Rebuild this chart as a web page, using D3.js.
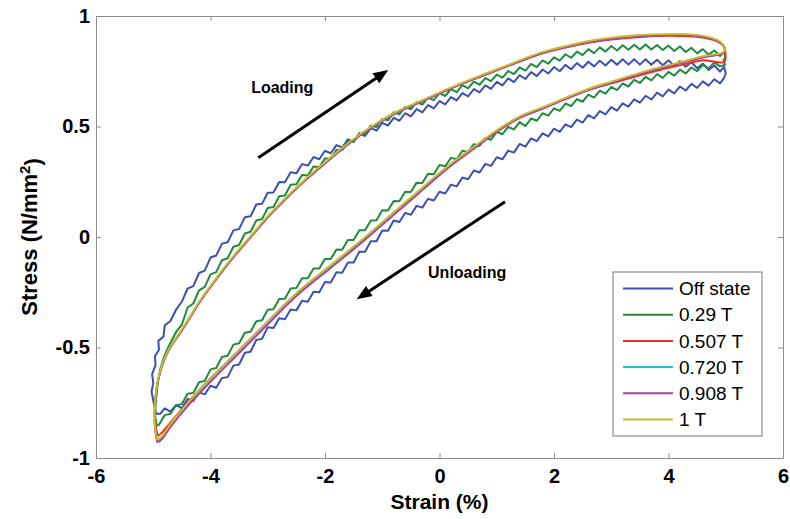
<!DOCTYPE html>
<html>
<head>
<meta charset="utf-8">
<script src="https://cdn.jsdelivr.net/npm/d3@7"></script>
<style>
  body { margin: 0; background: #fff; }
  svg { display: block; font-family: "Liberation Sans", Arial, sans-serif; }
</style>
</head>
<body>
<div id="chart"></div>
<script>
// ---- data ----
const legendLabels = ['Off state', '0.29 T', '0.507 T', '0.720 T', '0.908 T', '1 T'];
const seriesColors = ['#3c50b4', '#1e8c3c', '#f02a1e', '#1fc0c0', '#b23fa4', '#c4bf2a'];
const xTicks = [-6, -4, -2, 0, 2, 4, 6];
const yTicks = [-1, -0.5, 0, 0.5, 1];

// strain grid used by the two noisy loops
const gridUp = [
  -4.6,-4.5,-4.4,-4.3,-4.2,-4.1,-4.0,-3.9,-3.8,-3.7,
  -3.6,-3.5,-3.4,-3.3,-3.2,-3.1,-3.0,-2.9,-2.8,-2.7,
  -2.6,-2.5,-2.4,-2.3,-2.2,-2.1,-2.0,-1.9,-1.8,-1.7,
  -1.6,-1.5,-1.4,-1.3,-1.2,-1.1,-1.0,-0.9,-0.8,-0.7,
  -0.6,-0.5,-0.4,-0.3,-0.2,-0.1,0.0,0.1,0.2,0.3,
  0.4,0.5,0.6,0.7,0.8,0.9,1.0,1.1,1.2,1.3,
  1.4,1.5,1.6,1.7,1.8,1.9,2.0,2.1,2.2,2.3,
  2.4,2.5,2.6,2.7,2.8,2.9,3.0,3.1,3.2,3.3,
  3.4,3.5,3.6,3.7,3.8,3.9,4.0,4.1,4.2,4.3,
  4.4,4.5,4.6,4.7,4.8,4.9];
const gridDown = [
  4.9,4.8,4.7,4.6,4.5,4.4,4.3,4.2,4.1,4.0,
  3.9,3.8,3.7,3.6,3.5,3.4,3.3,3.2,3.1,3.0,
  2.9,2.8,2.7,2.6,2.5,2.4,2.3,2.2,2.1,2.0,
  1.9,1.8,1.7,1.6,1.5,1.4,1.3,1.2,1.1,1.0,
  0.9,0.8,0.7,0.6,0.5,0.4,0.3,0.2,0.1,0.0,
  -0.1,-0.2,-0.3,-0.4,-0.5,-0.6,-0.7,-0.8,-0.9,-1.0,
  -1.1,-1.2,-1.3,-1.4,-1.5,-1.6,-1.7,-1.8,-1.9,-2.0,
  -2.1,-2.2,-2.3,-2.4,-2.5,-2.6,-2.7,-2.8,-2.9,-3.0,
  -3.1,-3.2,-3.3,-3.4,-3.5,-3.6,-3.7,-3.8,-3.9,-4.0,
  -4.1,-4.2,-4.3,-4.4,-4.5];

// Off state
const offTipStrain = [-4.95,-5.0,-5.03,-5.0,-5.02,-4.96,-4.97,-4.90,-4.91,-4.82,-4.80,-4.70];
const offTipStress = [-0.80,-0.74,-0.70,-0.66,-0.62,-0.58,-0.54,-0.51,-0.47,-0.45,-0.40,-0.38];
const offUpStress = [
  -0.328,-0.292,-0.233,-0.222,-0.163,-0.152,-0.093,-0.084,-0.030,-0.024,
  0.030,0.036,0.089,0.094,0.147,0.150,0.200,0.201,0.249,0.248,
  0.293,0.288,0.330,0.323,0.362,0.352,0.390,0.379,0.416,0.405,
  0.442,0.431,0.468,0.457,0.493,0.481,0.517,0.504,0.539,0.526,
  0.560,0.546,0.579,0.564,0.597,0.582,0.615,0.600,0.633,0.618,
  0.651,0.636,0.669,0.654,0.686,0.670,0.702,0.686,0.718,0.701,
  0.732,0.715,0.746,0.728,0.758,0.740,0.769,0.750,0.779,0.759,
  0.787,0.766,0.793,0.772,0.798,0.776,0.802,0.779,0.804,0.780,
  0.804,0.780,0.804,0.779,0.802,0.777,0.800,0.774,0.796,0.770,
  0.791,0.764,0.784,0.756,0.776,0.748];
const offTurnStrain = [4.97, 5.0, 4.97];
const offTurnStress = [0.77, 0.74, 0.72];
const offDownStress = [
  0.695,0.714,0.685,0.704,0.675,0.693,0.663,0.681,0.650,0.667,
  0.636,0.653,0.622,0.639,0.608,0.623,0.590,0.605,0.572,0.588,
  0.555,0.570,0.537,0.552,0.518,0.531,0.497,0.510,0.476,0.490,
  0.455,0.469,0.434,0.446,0.409,0.421,0.382,0.391,0.352,0.361,
  0.322,0.331,0.292,0.301,0.261,0.269,0.229,0.237,0.197,0.205,
  0.165,0.173,0.133,0.141,0.101,0.109,0.068,0.075,0.028,0.029,
  -0.019,-0.019,-0.067,-0.067,-0.115,-0.115,-0.162,-0.160,-0.206,-0.204,
  -0.250,-0.248,-0.293,-0.288,-0.332,-0.328,-0.372,-0.368,-0.412,-0.408,
  -0.461,-0.466,-0.519,-0.524,-0.577,-0.582,-0.634,-0.638,-0.682,-0.673,
  -0.712,-0.703,-0.742,-0.733,-0.775];
const offEndStrain = [-4.6,-4.7,-4.8,-4.88,-4.95];
const offEndStress = [-0.76,-0.79,-0.775,-0.80,-0.80];

// 0.29 T
const t029TipStrain = [-4.94,-4.97,-4.95,-4.92,-4.88,-4.81,-4.72];
const t029TipStress = [-0.855,-0.80,-0.73,-0.66,-0.60,-0.54,-0.49];
const t029UpStress = [
  -0.429,-0.396,-0.319,-0.301,-0.241,-0.226,-0.169,-0.159,-0.105,-0.096,
  -0.044,-0.036,0.016,0.024,0.075,0.081,0.131,0.136,0.184,0.188,
  0.236,0.239,0.281,0.278,0.319,0.316,0.356,0.353,0.395,0.393,
  0.434,0.430,0.470,0.465,0.504,0.498,0.535,0.528,0.564,0.555,
  0.589,0.578,0.611,0.599,0.631,0.619,0.651,0.638,0.669,0.656,
  0.687,0.673,0.703,0.689,0.719,0.705,0.735,0.721,0.751,0.737,
  0.767,0.753,0.783,0.769,0.799,0.784,0.813,0.798,0.827,0.811,
  0.839,0.823,0.850,0.832,0.858,0.839,0.864,0.844,0.868,0.847,
  0.870,0.849,0.871,0.848,0.869,0.846,0.866,0.842,0.862,0.837,
  0.856,0.831,0.850,0.825,0.844,0.819];
const t029TurnStrain = [4.97, 4.99, 4.96, 4.99];
const t029TurnStress = [0.84, 0.81, 0.80, 0.78];
const t029DownStress = [
  0.772,0.790,0.763,0.779,0.751,0.767,0.740,0.757,0.730,0.747,
  0.720,0.737,0.709,0.725,0.697,0.711,0.681,0.695,0.665,0.679,
  0.649,0.662,0.631,0.644,0.612,0.624,0.592,0.604,0.571,0.582,
  0.549,0.560,0.526,0.536,0.502,0.520,0.487,0.498,0.465,0.476,
  0.440,0.448,0.412,0.420,0.384,0.390,0.352,0.358,0.320,0.326,
  0.284,0.286,0.244,0.246,0.204,0.205,0.162,0.163,0.120,0.121,
  0.076,0.075,0.031,0.031,-0.014,-0.014,-0.058,-0.057,-0.100,-0.099,
  -0.143,-0.143,-0.187,-0.187,-0.231,-0.233,-0.279,-0.281,-0.327,-0.329,
  -0.377,-0.381,-0.429,-0.433,-0.481,-0.487,-0.537,-0.543,-0.593,-0.599,
  -0.651,-0.657,-0.706,-0.709,-0.756];
const t029EndStrain = [-4.6,-4.7,-4.8,-4.9,-4.94];
const t029EndStress = [-0.762,-0.80,-0.806,-0.85,-0.855];

// 0.507 T
const t0507Strain = [
  -4.92,-4.96,-4.97,-4.95,-4.89,-4.80,-4.68,-4.52,-4.35,-4.18,
  -3.9,-3.6,-3.3,-3.0,-2.7,-2.4,-2.0,-1.6,-1.2,-0.75,
  -0.3,0.13,0.6,1.0,1.4,1.76,2.2,2.63,3.0,3.5,
  4.0,4.38,4.65,4.84,4.95,4.985,4.99,4.95,
  4.6,4.38,4.0,3.5,3.0,2.63,2.2,1.76,1.41,1.0,
  0.6,0.13,-0.3,-0.75,-1.33,-1.9,-2.49,-3.0,-3.5,-4.0,
  -4.4,-4.7,-4.85,-4.92];
const t0507Stress = [
  -0.90,-0.85,-0.78,-0.70,-0.62,-0.55,-0.49,-0.43,-0.36,-0.29,
  -0.19,-0.09,0.0,0.09,0.17,0.245,0.335,0.42,0.495,0.563,
  0.615,0.665,0.715,0.755,0.795,0.828,0.857,0.88,0.893,0.905,
  0.91,0.908,0.9,0.886,0.868,0.85,0.80,0.79,
  0.80,0.788,0.765,0.732,0.695,0.668,0.625,0.578,0.542,0.478,
  0.404,0.314,0.22,0.12,-0.01,-0.13,-0.254,-0.383,-0.512,-0.64,
  -0.75,-0.84,-0.885,-0.90];

// 0.720 T, 0.908 T, 1 T share strain samples
const fieldStrain = [
  -4.93,-4.97,-4.975,-4.95,-4.89,-4.80,-4.68,-4.52,-4.35,-4.18,
  -3.9,-3.6,-3.3,-3.0,-2.7,-2.4,-2.0,-1.6,-1.2,-0.75,
  -0.3,0.13,0.6,1.0,1.4,1.76,2.2,2.63,3.0,3.5,
  4.0,4.38,4.65,4.84,4.95,4.985,
  4.965,4.90,4.6,4.38,4.0,3.5,3.0,2.63,2.2,1.76,
  1.41,1.0,0.6,0.13,-0.3,-0.75,-1.33,-1.9,-2.49,-3.0,
  -3.5,-4.0,-4.4,-4.7,-4.85,-4.93];
const t0720Stress = [
  -0.922,-0.86,-0.78,-0.70,-0.62,-0.55,-0.49,-0.43,-0.36,-0.29,
  -0.19,-0.09,0.0,0.09,0.17,0.245,0.335,0.42,0.495,0.563,
  0.615,0.665,0.715,0.755,0.795,0.83,0.86,0.884,0.898,0.91,
  0.915,0.914,0.905,0.89,0.87,0.85,
  0.835,0.828,0.815,0.80,0.775,0.74,0.70,0.67,0.627,0.58,
  0.544,0.48,0.405,0.315,0.22,0.12,-0.01,-0.13,-0.255,-0.385,
  -0.515,-0.645,-0.755,-0.85,-0.905,-0.922];
const t0908Stress = [
  -0.93,-0.865,-0.785,-0.70,-0.62,-0.55,-0.49,-0.432,-0.362,-0.292,
  -0.192,-0.092,-0.002,0.088,0.168,0.243,0.333,0.418,0.494,0.562,
  0.614,0.664,0.714,0.754,0.794,0.829,0.859,0.883,0.897,0.909,
  0.914,0.913,0.904,0.889,0.869,0.849,
  0.834,0.826,0.812,0.797,0.772,0.737,0.697,0.667,0.624,0.576,
  0.54,0.475,0.399,0.308,0.212,0.111,-0.019,-0.14,-0.265,-0.395,
  -0.525,-0.655,-0.765,-0.86,-0.915,-0.93];
const t1Stress = [
  -0.918,-0.856,-0.776,-0.696,-0.616,-0.546,-0.486,-0.426,-0.356,-0.286,
  -0.186,-0.086,0.004,0.094,0.174,0.249,0.339,0.424,0.499,0.567,
  0.619,0.669,0.719,0.759,0.799,0.834,0.864,0.888,0.902,0.914,
  0.918,0.917,0.908,0.893,0.873,0.853,
  0.838,0.831,0.818,0.803,0.778,0.743,0.703,0.673,0.63,0.583,
  0.547,0.483,0.408,0.318,0.223,0.123,-0.007,-0.127,-0.252,-0.382,
  -0.512,-0.642,-0.752,-0.847,-0.902,-0.918];

// annotation arrows (data units)
const loadingArrow = [[-3.165, 0.359], [-0.894, 0.756]];
const unloadingArrow = [[1.144, 0.160], [-1.446, -0.282]];
const loadingLabel = [-3.29, 0.652];
const unloadingLabel = [-0.20, -0.186];

// ---- chart ----
const svgWidth = 790;
const svgHeight = 519;
const margin = { top: 16, right: 7, bottom: 61, left: 96 };
const width = svgWidth - margin.left - margin.right;
const height = svgHeight - margin.top - margin.bottom;

const svg = d3.select('#chart')
  .append('svg')
  .attr('width', svgWidth)
  .attr('height', svgHeight);

const chartGroup = svg.append('g')
  .attr('transform', `translate(${margin.left}, ${margin.top})`);

const xScale = d3.scaleLinear().domain([-6, 6]).range([0, width]);
const yScale = d3.scaleLinear().domain([-1, 1]).range([height, 0]);

const series = [
  { strain: [...offTipStrain, ...gridUp, ...offTurnStrain, ...gridDown, ...offEndStrain],
    stress: [...offTipStress, ...offUpStress, ...offTurnStress, ...offDownStress, ...offEndStress], smooth: false },
  { strain: [...t029TipStrain, ...gridUp, ...t029TurnStrain, ...gridDown, ...t029EndStrain],
    stress: [...t029TipStress, ...t029UpStress, ...t029TurnStress, ...t029DownStress, ...t029EndStress], smooth: false },
  { strain: t0507Strain, stress: t0507Stress, smooth: true },
  { strain: fieldStrain, stress: t0720Stress, smooth: true },
  { strain: fieldStrain, stress: t0908Stress, smooth: true },
  { strain: fieldStrain, stress: t1Stress, smooth: true }
];

series.forEach((s, i) => {
  if (s.strain.length !== s.stress.length) {
    throw new Error(`length mismatch in ${legendLabels[i]}: ${s.strain.length} vs ${s.stress.length}`);
  }
  s.points = s.strain.map((x, j) => [x, s.stress[j]]);
});

const axisColor = '#8c8c8c';

// axes (ticks point inward, box style)
const styleAxis = g => {
  g.select('.domain').attr('stroke', axisColor);
  g.selectAll('.tick line').attr('stroke', axisColor);
  g.selectAll('.tick text')
    .attr('fill', '#000')
    .style('font-size', '20px')
    .style('font-weight', 'bold');
};

chartGroup.append('g')
  .attr('transform', `translate(0, ${height})`)
  .call(d3.axisBottom(xScale).tickValues(xTicks).tickSize(-5).tickSizeOuter(0)
    .tickPadding(11).tickFormat(d => String(d)))
  .call(styleAxis);

chartGroup.append('g')
  .call(d3.axisTop(xScale).tickValues(xTicks).tickSize(-5).tickSizeOuter(0).tickFormat(''))
  .call(styleAxis);

chartGroup.append('g')
  .call(d3.axisLeft(yScale).tickValues(yTicks).tickSize(-5).tickSizeOuter(0)
    .tickPadding(6).tickFormat(d => String(d)))
  .call(styleAxis);

chartGroup.append('g')
  .attr('transform', `translate(${width}, 0)`)
  .call(d3.axisRight(yScale).tickValues(yTicks).tickSize(-5).tickSizeOuter(0).tickFormat(''))
  .call(styleAxis);

// curves
const lineRaw = d3.line()
  .x(d => xScale(d[0]))
  .y(d => yScale(d[1]));
const lineSmooth = d3.line()
  .x(d => xScale(d[0]))
  .y(d => yScale(d[1]))
  .curve(d3.curveCatmullRom.alpha(0.5));

chartGroup.selectAll('.loop')
  .data(series)
  .enter()
  .append('path')
  .attr('class', 'loop')
  .attr('fill', 'none')
  .attr('stroke', (d, i) => seriesColors[i])
  .attr('stroke-width', (d, i) => i < 2 ? 2 : 1.9)
  .attr('stroke-linejoin', 'round')
  .attr('d', d => d.smooth ? lineSmooth(d.points) : lineRaw(d.points));

// arrows
const drawArrow = (pts) => {
  const x1 = xScale(pts[0][0]), y1 = yScale(pts[0][1]);
  const x2 = xScale(pts[1][0]), y2 = yScale(pts[1][1]);
  const ang = Math.atan2(y2 - y1, x2 - x1);
  const headLen = 15, headHalf = 6;
  const bx = x2 - headLen * Math.cos(ang), by = y2 - headLen * Math.sin(ang);
  chartGroup.append('line')
    .attr('x1', x1).attr('y1', y1)
    .attr('x2', bx + 2 * Math.cos(ang)).attr('y2', by + 2 * Math.sin(ang))
    .attr('stroke', '#000')
    .attr('stroke-width', 3);
  const px = -Math.sin(ang), py = Math.cos(ang);
  chartGroup.append('path')
    .attr('d', `M${x2},${y2}L${bx + headHalf * px},${by + headHalf * py}L${bx - headHalf * px},${by - headHalf * py}Z`)
    .attr('fill', '#000');
};
drawArrow(loadingArrow);
drawArrow(unloadingArrow);

chartGroup.append('text')
  .attr('x', xScale(loadingLabel[0]))
  .attr('y', yScale(loadingLabel[1]))
  .style('font-size', '16px')
  .style('font-weight', 'bold')
  .text('Loading');

chartGroup.append('text')
  .attr('x', xScale(unloadingLabel[0]))
  .attr('y', yScale(unloadingLabel[1]))
  .style('font-size', '16px')
  .style('font-weight', 'bold')
  .text('Unloading');

// axis labels
svg.append('text')
  .attr('x', margin.left + width / 2)
  .attr('y', 509)
  .attr('text-anchor', 'middle')
  .style('font-size', '21px')
  .style('font-weight', 'bold')
  .text('Strain (%)');

const yLabel = svg.append('text')
  .attr('transform', `translate(37, ${margin.top + height / 2}) rotate(-90)`)
  .attr('text-anchor', 'middle')
  .style('font-size', '22px')
  .style('font-weight', 'bold');
yLabel.append('tspan').text('Stress (N/mm');
yLabel.append('tspan').attr('dy', '-0.45em').style('font-size', '15px').text('2');
yLabel.append('tspan').attr('dy', '0.45em').text(')');

// legend
const legend = svg.append('g').attr('transform', 'translate(613, 272)');
legend.append('rect')
  .attr('width', 149)
  .attr('height', 164)
  .attr('fill', '#fff')
  .attr('stroke', '#777')
  .attr('stroke-width', 1);

const legendRows = legend.selectAll('.row')
  .data(legendLabels)
  .enter()
  .append('g')
  .attr('class', 'row')
  .attr('transform', (d, i) => `translate(0, ${16.5 + i * 26.2})`);

legendRows.append('line')
  .attr('x1', 10).attr('x2', 60)
  .attr('stroke', (d, i) => seriesColors[i])
  .attr('stroke-width', 2);

legendRows.append('text')
  .attr('x', 66)
  .attr('dy', '0.35em')
  .style('font-size', '19px')
  .text(d => d);
</script>
</body>
</html>
